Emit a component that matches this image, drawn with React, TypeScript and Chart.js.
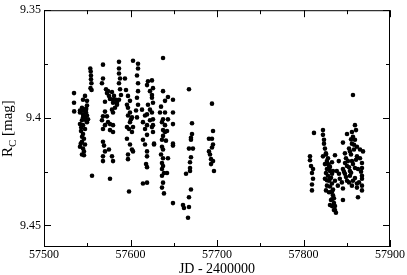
import React, { useEffect, useRef } from "react";
import { Chart, registerables } from "chart.js";

Chart.register(...registerables);

// Axis settings (data space)
const xMin = 57500;
const xMax = 57900;
const xStep = 100;
const yMin = 9.35;
const yMax = 9.46;
const yStep = 0.05;
const xTitle = "JD - 2400000";

// Observations [JD - 2400000, R_C mag], grouped by observing block
const block1: number[][] = [
  [57534.7, 9.3885], [57534.7, 9.393], [57534.9, 9.397],
];
const block2: number[][] = [
  [57553.5, 9.3771], [57554.0, 9.3785], [57554.3, 9.3803], [57554.3, 9.3821], [57554.8, 9.3839],
  [57553.8, 9.3862], [57555.0, 9.3871], [57547.4, 9.3898], [57545.1, 9.3916], [57549.7, 9.3921],
  [57549.7, 9.3943], [57543.9, 9.3953], [57548.6, 9.3957], [57548.6, 9.3962], [57541.6, 9.3966],
  [57545.1, 9.3966], [57541.6, 9.3975], [57548.6, 9.3975], [57545.1, 9.3984], [57549.7, 9.3989],
  [57545.1, 9.3998], [57547.4, 9.3998], [57550.9, 9.4007], [57543.9, 9.4011], [57548.6, 9.4011],
  [57549.7, 9.402], [57545.1, 9.4034], [57547.4, 9.4052], [57545.1, 9.4075], [57546.2, 9.4097],
  [57543.9, 9.4111], [57547.4, 9.4124], [57545.1, 9.4143], [57546.2, 9.4156], [57543.9, 9.417],
  [57546.2, 9.4174], [57555.5, 9.4269], [57541.6, 9.4029], [57542.8, 9.4061], [57541.6, 9.4134],
  [57543.0, 9.4045], [57544.0, 9.4088], [57542.5, 9.4120],
];
const block3: number[][] = [
  [57568.2, 9.3753], [57568.2, 9.3817], [57567.0, 9.3839], [57571.7, 9.3867], [57574.0, 9.3876],
  [57572.8, 9.3885], [57575.1, 9.3898], [57576.3, 9.3912], [57570.5, 9.3925], [57578.6, 9.388],
  [57580.9, 9.3898], [57579.8, 9.3916], [57583.2, 9.3916], [57579.8, 9.393], [57584.4, 9.3939],
  [57582.1, 9.3953], [57578.6, 9.3962], [57579.8, 9.3975], [57570.5, 9.3971], [57568.2, 9.3993],
  [57572.8, 9.3993], [57567.0, 9.4011], [57574.0, 9.402], [57570.5, 9.4034], [57576.3, 9.4029],
  [57579.8, 9.4034], [57576.3, 9.4057], [57579.8, 9.4066], [57568.2, 9.4052], [57568.2, 9.4111],
  [57569.4, 9.4129], [57570.5, 9.4156], [57568.2, 9.4179], [57568.2, 9.4201], [57575.1, 9.4147],
  [57578.6, 9.4179], [57579.8, 9.4201], [57576.3, 9.4283],
];
const block4: number[][] = [
  [57586.7, 9.374], [57586.7, 9.3771], [57586.7, 9.3794], [57587.9, 9.3817], [57586.7, 9.3839],
  [57587.9, 9.3867], [57589.0, 9.3894], [57586.7, 9.3916], [57584.4, 9.393], [57593.6, 9.3817],
  [57594.8, 9.3871], [57597.1, 9.3898], [57599.4, 9.3921], [57595.9, 9.3939], [57597.1, 9.3953],
  [57599.4, 9.3975], [57597.1, 9.3989], [57600.6, 9.4007], [57599.4, 9.402], [57601.7, 9.3998],
  [57595.9, 9.4043], [57598.3, 9.4052], [57602.9, 9.4043], [57601.7, 9.4066], [57599.4, 9.4124],
  [57601.7, 9.4147], [57597.1, 9.417], [57602.9, 9.4156], [57598.3, 9.4342], [57595.9, 9.4097],
  [57597.1, 9.4192],
];
const block5: number[][] = [
  [57602.9, 9.3735], [57608.7, 9.3749], [57608.7, 9.3771], [57607.5, 9.3803], [57608.7, 9.3839],
  [57608.7, 9.3876], [57607.5, 9.3907], [57608.7, 9.3939], [57606.4, 9.3966], [57613.3, 9.3962],
  [57607.5, 9.3998], [57620.2, 9.383], [57619.1, 9.3848], [57622.5, 9.3876], [57624.8, 9.3907],
  [57620.2, 9.3939], [57622.5, 9.3962], [57619.1, 9.3984], [57616.8, 9.3989], [57622.5, 9.4011],
  [57626.0, 9.4034], [57619.1, 9.4034], [57616.8, 9.4052], [57614.4, 9.402], [57619.1, 9.4079],
  [57614.4, 9.4102], [57616.8, 9.4124], [57619.1, 9.4156], [57619.1, 9.4179], [57618.0, 9.4215],
  [57619.1, 9.4229], [57626.0, 9.4066], [57627.2, 9.4124], [57614.4, 9.4305], [57619.1, 9.4301],
  [57624.8, 9.3826], [57626.0, 9.3862], [57624.8, 9.3894], [57626.0, 9.393], [57624.8, 9.3975],
  [57626.0, 9.4007], [57624.8, 9.4043], [57627.2, 9.412],
];
const block6: number[][] = [
  [57637.6, 9.3722], [57637.6, 9.3876], [57639.9, 9.3921], [57643.3, 9.3903], [57649.1, 9.3916],
  [57634.1, 9.3975], [57639.9, 9.3975], [57649.1, 9.3975], [57637.6, 9.4007], [57643.3, 9.4007],
  [57636.4, 9.402], [57639.9, 9.4034], [57649.1, 9.4029], [57637.6, 9.4057], [57639.9, 9.4066],
  [57642.2, 9.4061], [57637.6, 9.4084], [57636.4, 9.4102], [57641.0, 9.4106], [57649.1, 9.412],
  [57649.1, 9.4129], [57636.4, 9.4134], [57637.6, 9.4147], [57635.3, 9.417], [57637.6, 9.4188],
  [57643.3, 9.4188], [57636.4, 9.421], [57637.6, 9.4224], [57636.4, 9.4238], [57638.7, 9.4256],
  [57642.2, 9.4256], [57636.4, 9.4269], [57637.6, 9.4301], [57636.4, 9.4324], [57638.7, 9.4351],
  [57649.1, 9.4396], [57635.3, 9.3948],
];
const block7: number[][] = [
  [57667.6, 9.3867], [57671.1, 9.4025], [57671.1, 9.4075], [57669.9, 9.4093], [57669.9, 9.4102],
  [57667.6, 9.4143], [57672.2, 9.4143], [57669.9, 9.4183], [57668.8, 9.4206], [57668.8, 9.4233],
  [57668.8, 9.4247], [57664.2, 9.426], [57669.9, 9.4333], [57667.6, 9.4369], [57660.7, 9.4405],
  [57661.8, 9.4419], [57667.6, 9.4414], [57666.5, 9.4464],
];
const block8: number[][] = [
  [57694.2, 9.3934], [57695.4, 9.4061], [57690.7, 9.4097], [57694.2, 9.4097], [57695.4, 9.4124],
  [57694.2, 9.4138], [57690.7, 9.4156], [57691.9, 9.417], [57693.1, 9.4192], [57695.4, 9.4201],
  [57693.1, 9.4215], [57696.5, 9.4247],
];
const block9: number[][] = [
  [57812.1, 9.407], [57807.5, 9.4179], [57807.5, 9.4197], [57808.7, 9.4224], [57811.0, 9.4238],
  [57809.8, 9.4256], [57811.0, 9.4283], [57809.8, 9.431], [57809.8, 9.4337],
];
const block10: number[][] = [
  [57822.5, 9.4057], [57822.5, 9.4079], [57823.7, 9.4102], [57823.7, 9.412], [57824.8, 9.4143],
  [57822.5, 9.4179], [57826.0, 9.417], [57828.3, 9.4188], [57827.1, 9.4201], [57824.8, 9.4215],
  [57829.5, 9.4224], [57827.1, 9.4238], [57830.6, 9.4247], [57828.3, 9.4269], [57831.8, 9.4278],
  [57829.5, 9.4292], [57832.9, 9.4305], [57830.6, 9.4319], [57834.1, 9.4333], [57831.8, 9.4346],
  [57834.1, 9.436], [57832.9, 9.4378], [57835.2, 9.4396], [57836.4, 9.441], [57835.2, 9.4428],
  [57837.5, 9.4441], [57826.0, 9.4256], [57824.8, 9.4283], [57827.1, 9.4315], [57829.5, 9.4346],
  [57831.8, 9.4382], [57830.6, 9.4405], [57826.0, 9.4337], [57834.1, 9.4247], [57836.4, 9.4292],
  [57832.9, 9.4206], [57825.9, 9.4165], [57828.3, 9.4215], [57830.6, 9.4228], [57833.0, 9.426],
  [57830.6, 9.4283], [57833.0, 9.4342], [57835.2, 9.4374], [57833.0, 9.441], [57836.4, 9.4428],
  [57827.1, 9.429],
];
const block11: number[][] = [
  [57857.2, 9.3894], [57859.5, 9.4034], [57860.7, 9.4057], [57856.0, 9.4066], [57850.3, 9.4075],
  [57857.2, 9.4088], [57859.5, 9.4102], [57856.0, 9.412], [57861.8, 9.4134], [57858.4, 9.4147],
  [57853.7, 9.4156], [57845.6, 9.4115], [57836.4, 9.4174], [57849.1, 9.4188], [57851.4, 9.4201],
  [57856.0, 9.4201], [57861.8, 9.4179], [57865.3, 9.4188], [57867.6, 9.421], [57857.2, 9.4215],
  [57850.3, 9.4224], [57845.6, 9.4238], [57853.7, 9.4247], [57859.5, 9.4233], [57863.0, 9.4238],
  [57867.6, 9.4233], [57847.9, 9.426], [57853.7, 9.4269], [57850.3, 9.4292], [57857.2, 9.4292],
  [57856.0, 9.4315], [57861.8, 9.4305], [57867.6, 9.4269], [57867.6, 9.4283], [57867.6, 9.4315],
  [57867.6, 9.4337], [57861.8, 9.4324], [57845.6, 9.4382], [57863.0, 9.4369], [57847.9, 9.4165],
  [57852.6, 9.4143], [57840.8, 9.4201], [57838.5, 9.4247], [57842.0, 9.4283], [57839.7, 9.4315],
  [57845.6, 9.4328], [57865.3, 9.4147], [57868.8, 9.4156], [57855.0, 9.41], [57858.4, 9.4125],
  [57854.9, 9.417], [57860.7, 9.4195], [57848.0, 9.421], [57852.6, 9.423], [57846.8, 9.425],
  [57855.0, 9.4255], [57849.1, 9.4275], [57859.5, 9.428], [57864.2, 9.43], [57852.6, 9.43],
  [57844.4, 9.43], [57841.0, 9.426], [57866.5, 9.425],
];

const blocks = [block1, block2, block3, block4, block5, block6, block7, block8, block9, block10, block11];

const framePlugin = {
  id: "frameTicks",
  afterDraw(chart: any) {
    const { ctx, chartArea: a, scales } = chart;
    const xs = scales.x;
    const ys = scales.y;
    ctx.save();
    ctx.strokeStyle = "#000";
    ctx.lineWidth = 1;
    ctx.strokeRect(a.left + 0.5, a.top + 0.5, a.right - a.left - 1, a.bottom - a.top - 1);
    const major = 7;
    const minor = 4;
    ctx.beginPath();
    const xv: number[] = xs.ticks.map((t: any) => t.value);
    const xTicks: [number, number][] = [];
    xv.forEach((v, i) => {
      xTicks.push([v, major]);
      if (i < xv.length - 1) xTicks.push([(v + xv[i + 1]) / 2, minor]);
    });
    xTicks.forEach(([v, len]) => {
      const p = Math.round(xs.getPixelForValue(v)) + 0.5;
      ctx.moveTo(p, a.bottom);
      ctx.lineTo(p, a.bottom - len);
      ctx.moveTo(p, a.top);
      ctx.lineTo(p, a.top + len);
    });
    const yv: number[] = ys.ticks.map((t: any) => t.value);
    const yTicks: [number, number][] = [];
    yv.forEach((v, i) => {
      yTicks.push([v, major]);
      if (i < yv.length - 1) yTicks.push([(v + yv[i + 1]) / 2, minor]);
    });
    if (yv.length) {
      const last = yv[yv.length - 1] + yStep / 2;
      if (last <= yMax) yTicks.push([last, minor]);
    }
    yTicks.forEach(([v, len]) => {
      const p = Math.round(ys.getPixelForValue(v)) + 0.5;
      ctx.moveTo(a.left, p);
      ctx.lineTo(a.left + len, p);
      ctx.moveTo(a.right, p);
      ctx.lineTo(a.right - len, p);
    });
    ctx.stroke();

    // y-axis title with subscript
    const cy = (a.top + a.bottom) / 2;
    ctx.translate(12, cy);
    ctx.rotate(-Math.PI / 2);
    ctx.fillStyle = "#000";
    ctx.textBaseline = "alphabetic";
    const big = '15px "Liberation Serif", "Times New Roman", serif';
    const small = '11px "Liberation Serif", "Times New Roman", serif';
    ctx.font = big;
    const wR = ctx.measureText("R").width;
    const rest = " [mag]";
    const wRest = ctx.measureText(rest).width;
    ctx.font = small;
    const wC = ctx.measureText("C").width;
    const total = wR + wC + wRest;
    let x0 = -total / 2;
    ctx.font = big;
    ctx.fillText("R", x0, 0);
    x0 += wR;
    ctx.font = small;
    ctx.fillText("C", x0, 3.5);
    x0 += wC;
    ctx.font = big;
    ctx.fillText(rest, x0, 0);
    ctx.restore();
  },
};

export default function App() {
  const ref = useRef<HTMLCanvasElement | null>(null);
  useEffect(() => {
    if (!ref.current) return;
    const font = { family: '"Liberation Serif", "Times New Roman", serif', size: 12 };
    const chart = new Chart(ref.current, {
      type: "scatter",
      data: {
        datasets: blocks.map((b) => ({
          data: b.map(([x, y]) => ({ x, y })),
          backgroundColor: "#000",
          borderColor: "#000",
          borderWidth: 0,
          pointRadius: 2.3,
          pointHoverRadius: 2.3,
        })),
      },
      plugins: [framePlugin],
      options: {
        animation: false,
        responsive: false,
        devicePixelRatio: 1,
        layout: { padding: { top: 5, right: 17, left: 0, bottom: 0 } },
        plugins: { legend: { display: false }, tooltip: { enabled: false } },
        scales: {
          x: {
            type: "linear",
            min: xMin,
            max: xMax,
            grid: { display: false, drawTicks: false },
            border: { display: false },
            ticks: {
              stepSize: xStep,
              includeBounds: false,
              color: "#000",
              font,
              padding: 1,
              maxRotation: 0,
              callback: (v: any) => String(v),
            },
            title: {
              display: true,
              text: xTitle,
              color: "#000",
              font: { family: font.family, size: 14, lineHeight: 0.8 },
              padding: { top: 0, bottom: 0 },
            },
            afterFit: (s: any) => {
              s.height = 28;
            },
          },
          y: {
            type: "linear",
            reverse: true,
            min: yMin,
            max: yMax,
            grid: { display: false, drawTicks: false },
            border: { display: false },
            ticks: {
              stepSize: yStep,
              includeBounds: false,
              color: "#000",
              font,
              padding: 3,
              callback: (v: any) => String(+Number(v).toFixed(2)),
            },
            afterFit: (s: any) => {
              s.width = 44;
            },
          },
        },
      },
    } as any);
    return () => chart.destroy();
  }, []);
  return (
    <div style={{ position: "absolute", left: 0, top: 0, width: 407, height: 275, background: "#fff" }}>
      <canvas ref={ref} width={407} height={275} style={{ display: "block" }} />
    </div>
  );
}
